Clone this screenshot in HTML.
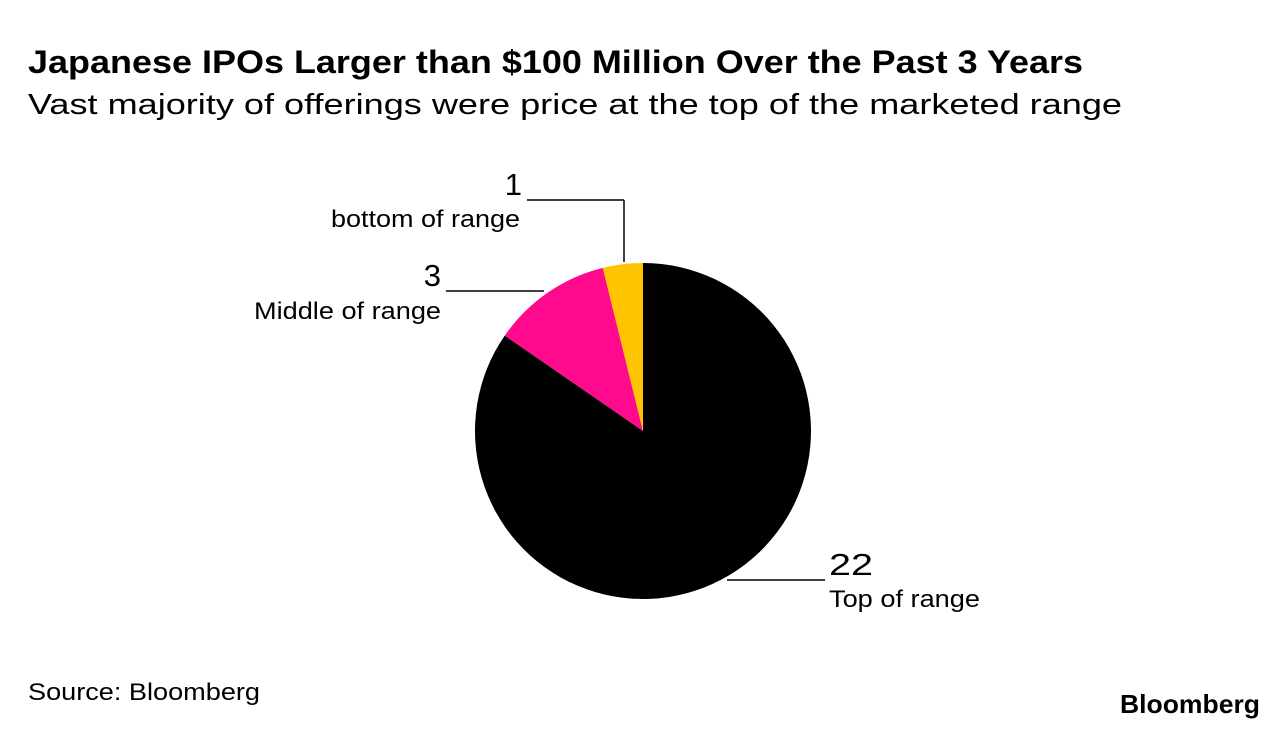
<!DOCTYPE html>
<html><head><meta charset="utf-8"><style>
body{margin:0;background:#fff;width:1288px;height:730px;overflow:hidden;font-family:"Liberation Sans",sans-serif;}
</style></head><body>
<svg width="1288" height="730">
<text x="28" y="73" font-size="32" font-weight="bold" fill="#000" textLength="1055" lengthAdjust="spacingAndGlyphs">Japanese IPOs Larger than $100 Million Over the Past 3 Years</text>
<text x="28" y="114" font-size="29" fill="#000" textLength="1094" lengthAdjust="spacingAndGlyphs">Vast majority of offerings were price at the top of the marketed range</text>
<g id="pie"></g>
<line x1="527" y1="200" x2="624" y2="200" stroke="#000" stroke-width="1.5"/>
<line x1="624" y1="200" x2="624" y2="262" stroke="#000" stroke-width="1.5"/>
<line x1="446" y1="291" x2="544" y2="291" stroke="#000" stroke-width="1.5"/>
<line x1="727" y1="580" x2="825" y2="580" stroke="#000" stroke-width="1.5"/>
<text x="522" y="195" font-size="31" text-anchor="end">1</text>
<text x="331" y="227" font-size="24" textLength="189" lengthAdjust="spacingAndGlyphs">bottom of range</text>
<text x="441" y="286" font-size="31" text-anchor="end">3</text>
<text x="254" y="319" font-size="24" textLength="187" lengthAdjust="spacingAndGlyphs">Middle of range</text>
<text x="829" y="575" font-size="31" textLength="44" lengthAdjust="spacingAndGlyphs">22</text>
<text x="829" y="607" font-size="24" textLength="151" lengthAdjust="spacingAndGlyphs">Top of range</text>
<text x="28" y="700" font-size="24" textLength="232" lengthAdjust="spacingAndGlyphs">Source: Bloomberg</text>
<text x="1120" y="713" font-size="26" font-weight="bold" textLength="140" lengthAdjust="spacingAndGlyphs">Bloomberg</text>
</svg>
<script>
const categories=["Top of range","Middle of range","bottom of range"];
const values=[22,3,1];
const colors=["#000000","#ff0a8c","#ffc400"];
const cx=643,cy=431,r=168;
const total=values.reduce((a,b)=>a+b,0);
const g=document.getElementById('pie');
let a=0;
function pt(ang){return [cx+r*Math.sin(ang),cy-r*Math.cos(ang)];}
values.forEach((v,i)=>{
  const a2=a+v/total*2*Math.PI;
  const p1=pt(a),p2=pt(a2);
  const large=(a2-a)>Math.PI?1:0;
  const p=document.createElementNS('http://www.w3.org/2000/svg','path');
  p.setAttribute('d',`M${cx},${cy} L${p1[0]},${p1[1]} A${r},${r} 0 ${large} 1 ${p2[0]},${p2[1]} Z`);
  p.setAttribute('fill',colors[i]);
  
  
  g.appendChild(p);
  a=a2;
});
</script>
</body></html>
